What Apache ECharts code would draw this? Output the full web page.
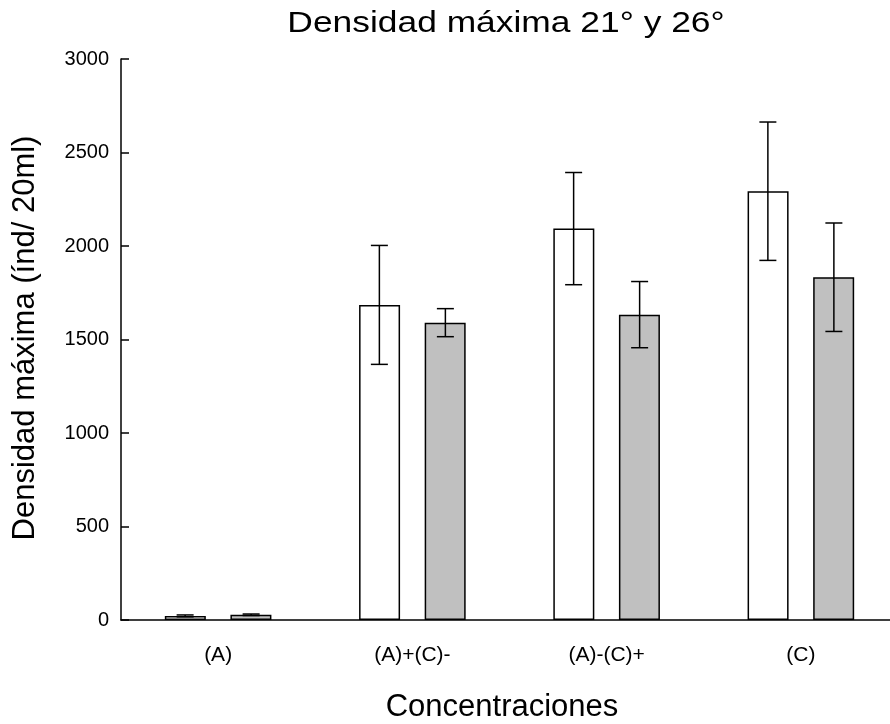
<!DOCTYPE html>
<html>
<head>
<meta charset="utf-8">
<script src="https://cdn.jsdelivr.net/npm/echarts@6/dist/echarts.min.js"></script>
<style>
  html, body { margin: 0; padding: 0; background: #fff; }
  #chart { width: 890px; height: 724px; }
</style>
</head>
<body>
<div id="chart"></div>
<script>
  const categories = ["(A)", "(A)+(C)-", "(A)-(C)+", "(C)"]
  // 21° (white) and 26° (grey) means with half-width of error bars
  const white = [22, 1685, 2093, 2293]
  const whiteErr = [5, 318, 300, 370]
  const grey = [28, 1590, 1633, 1833]
  const greyErr = [4, 75, 177, 290]
  const yTicks = [0, 500, 1000, 1500, 2000, 2500, 3000]

  const font = "Liberation Sans, Arial, sans-serif"
  const barWidth = 41
  const barOffset = 33

  function errorSeries(values, errs, dx) {
    return {
      type: "custom",
      z: 5,
      silent: true,
      data: values.map((v, i) => [i, v - errs[i], v + errs[i]]),
      renderItem: function (params, api) {
        const lo = api.coord([api.value(0), api.value(1)])
        const hi = api.coord([api.value(0), api.value(2)])
        const x = lo[0] + dx
        const cap = 8.5
        const style = { stroke: "#000", lineWidth: 1.5 }
        return {
          type: "group",
          children: [
            { type: "line", shape: { x1: x, y1: lo[1], x2: x, y2: hi[1] }, style: style },
            { type: "line", shape: { x1: x - cap, y1: hi[1], x2: x + cap, y2: hi[1] }, style: style },
            { type: "line", shape: { x1: x - cap, y1: lo[1], x2: x + cap, y2: lo[1] }, style: style },
          ],
        }
      },
    }
  }

  const myChart = echarts.init(document.getElementById("chart"))
  const option = {
    animation: false,
    graphic: [
      {
        type: "text",
        x: 506,
        y: 24,
        scaleX: 1.22,
        style: {
          text: "Densidad máxima 21° y 26°",
          font: "29px " + font,
          fill: "#000",
          align: "center",
          verticalAlign: "middle",
        },
      },
      {
        type: "text",
        x: 502,
        y: 707,
        style: {
          text: "Concentraciones",
          font: "31px " + font,
          fill: "#000",
          align: "center",
          verticalAlign: "middle",
        },
      },
      {
        type: "text",
        x: 25,
        y: 338,
        rotation: Math.PI / 2,
        style: {
          text: "Densidad máxima (índ/ 20ml)",
          font: "31px " + font,
          fill: "#000",
          align: "center",
          verticalAlign: "middle",
        },
      },
    ],
    grid: {
      left: 121,
      top: 59,
      width: 777,
      bottom: 104,
      outerBoundsMode: "none",
    },
    xAxis: {
      type: "category",
      data: categories,
      axisLine: { lineStyle: { color: "#000", width: 1.5 } },
      axisTick: { show: false },
      axisLabel: { fontFamily: font, fontSize: 21, color: "#000", margin: 25 },
    },
    yAxis: {
      type: "value",
      min: yTicks[0],
      max: yTicks[yTicks.length - 1],
      interval: 500,
      axisLine: { show: true, lineStyle: { color: "#000", width: 1.5 } },
      axisTick: { show: true, inside: true, length: 8, lineStyle: { color: "#000", width: 1.5 } },
      axisLabel: {
        fontFamily: font,
        fontSize: 20,
        color: "#000",
        margin: 12,
        formatter: (v) => String(v),
      },
      splitLine: { show: false },
    },
    series: [
      {
        name: "21°",
        type: "bar",
        data: white,
        barWidth: barWidth,
        barGap: "60%",
        itemStyle: { color: "#fff", borderColor: "#000", borderWidth: 1.5 },
      },
      {
        name: "26°",
        type: "bar",
        data: grey,
        barWidth: barWidth,
        itemStyle: { color: "#c0c0c0", borderColor: "#000", borderWidth: 1.5 },
      },
      errorSeries(white, whiteErr, -barOffset),
      errorSeries(grey, greyErr, barOffset),
    ],
  }
  myChart.setOption(option)
</script>
</body>
</html>
